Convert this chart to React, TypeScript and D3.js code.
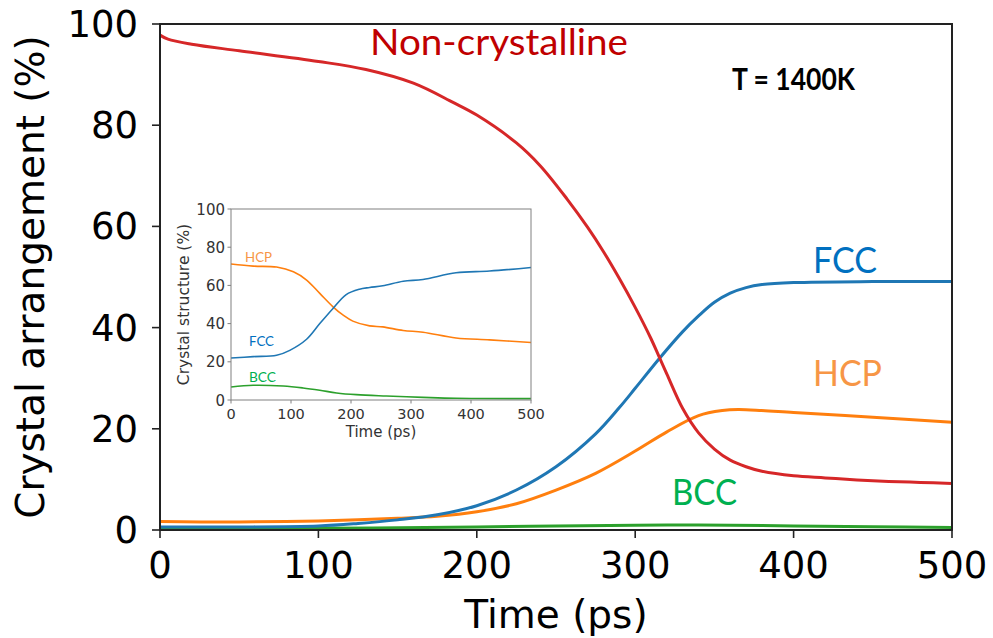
import React from "react";
import * as d3 from "d3";

// ---------- Main chart data ----------
const redT = [0, 5, 20, 50, 100, 130, 160, 185, 200, 225, 240, 257, 270, 280, 290, 300, 310, 315, 320, 330, 340, 350, 360, 370, 380, 400, 420, 440, 460, 480, 500];
const redV = [97.8, 97.0, 96.0, 94.7, 92.6, 91.0, 88.3, 84.5, 82.0, 76.5, 72.0, 65.4, 59.8, 55.0, 49.7, 44.0, 37.8, 34.3, 30.8, 24.0, 19.2, 16.0, 13.8, 12.5, 11.6, 10.7, 10.3, 9.9, 9.6, 9.4, 9.2];

const blueT = [0, 50, 100, 125, 150, 175, 200, 225, 250, 275, 290, 300, 315, 330, 340, 350, 360, 370, 380, 400, 450, 500];
const blueV = [0.6, 0.6, 0.8, 1.3, 2.0, 3.0, 4.8, 7.9, 12.5, 19.0, 24.2, 28.0, 33.8, 39.2, 42.3, 45.0, 46.8, 47.9, 48.5, 48.9, 49.1, 49.1];

const orangeT = [0, 50, 100, 150, 175, 200, 225, 250, 275, 300, 320, 340, 355, 365, 380, 400, 450, 500];
const orangeV = [1.7, 1.6, 1.8, 2.3, 2.7, 3.6, 5.2, 7.9, 11.2, 15.6, 19.4, 22.6, 23.6, 23.8, 23.6, 23.2, 22.3, 21.3];

const greenT = [0, 100, 200, 250, 300, 330, 360, 400, 450, 500];
const greenV = [0.3, 0.35, 0.6, 0.8, 0.95, 1.0, 0.95, 0.8, 0.65, 0.5];

const mainXTicks = [0, 100, 200, 300, 400, 500];
const mainYTicks = [0, 20, 40, 60, 80, 100];

// ---------- Inset data ----------
const inHcpT = [0, 37, 76, 104, 126, 148, 170, 187, 203, 231, 253, 287, 320, 375, 431, 500];
const inHcpV = [71.2, 70.1, 69.6, 67.1, 62.8, 55.8, 48.8, 44.4, 41.3, 38.8, 38.3, 36.4, 35.5, 32.5, 31.5, 30.1];

const inFccT = [0, 37, 76, 98, 126, 148, 170, 192, 214, 231, 253, 287, 320, 375, 431, 500];
const inFccV = [22.0, 22.7, 23.4, 26.0, 31.8, 40.0, 47.9, 55.2, 58.0, 58.9, 59.8, 62.2, 63.1, 66.6, 67.5, 69.4];

const inBccT = [0, 37, 87, 120, 148, 176, 209, 259, 320, 375, 500];
const inBccV = [6.8, 7.7, 7.3, 6.3, 5.1, 3.7, 2.8, 2.1, 1.4, 0.9, 0.7];

const insetXTicks = [0, 100, 200, 300, 400, 500];
const insetYTicks = [0, 20, 40, 60, 80, 100];

const zip = (t: number[], v: number[]) => t.map((x, i) => [x, v[i]] as [number, number]);

export default function App() {
  // main scales
  const x = d3.scaleLinear().domain([0, 500]).range([160, 952]);
  const y = d3.scaleLinear().domain([0, 100]).range([530, 24]);
  const line = d3
    .line<[number, number]>()
    .x((d) => x(d[0]))
    .y((d) => y(d[1]))
    .curve(d3.curveCatmullRom.alpha(0.5));

  // inset scales
  const ix = d3.scaleLinear().domain([0, 500]).range([231, 531]);
  const iy = d3.scaleLinear().domain([0, 100]).range([400, 209]);
  const iline = d3
    .line<[number, number]>()
    .x((d) => ix(d[0]))
    .y((d) => iy(d[1]))
    .curve(d3.curveCatmullRom.alpha(0.5));

  const tickFont = "DejaVu Sans, sans-serif";
  const labelFont = "Lato, 'Open Sans', sans-serif";

  return (
    <svg
      width={993}
      height={638}
      style={{ position: "absolute", left: 0, top: 0, background: "#fff" }}
      xmlns="http://www.w3.org/2000/svg"
    >
      <rect x={0} y={0} width={993} height={638} fill="#fff" />

      {/* main lines */}
      <path d={line(zip(greenT, greenV)) || ""} fill="none" stroke="#2ca02c" strokeWidth={3} />
      <path d={line(zip(orangeT, orangeV)) || ""} fill="none" stroke="#ff7f0e" strokeWidth={3} />
      <path d={line(zip(blueT, blueV)) || ""} fill="none" stroke="#1f77b4" strokeWidth={3} />
      <path d={line(zip(redT, redV)) || ""} fill="none" stroke="#d62728" strokeWidth={3} />

      {/* main frame */}
      <rect x={160} y={24} width={792} height={506} fill="none" stroke="#222" strokeWidth={2} />

      {/* main x ticks */}
      {mainXTicks.map((t) => (
        <g key={"mx" + t}>
          <line x1={x(t)} x2={x(t)} y1={530} y2={538} stroke="#222" strokeWidth={1.6} />
          <text x={x(t)} y={578} textAnchor="middle" fontFamily={tickFont} fontSize={37} fill="#000">
            {t}
          </text>
        </g>
      ))}
      {/* main y ticks */}
      {mainYTicks.map((v) => (
        <g key={"my" + v}>
          <line x1={152} x2={160} y1={y(v)} y2={y(v)} stroke="#222" strokeWidth={1.6} />
          <text x={138} y={y(v) + 13} textAnchor="end" fontFamily={tickFont} fontSize={37} fill="#000">
            {v}
          </text>
        </g>
      ))}
      <text x={556} y={628} textAnchor="middle" fontFamily={tickFont} fontSize={39} fill="#000">
        Time (ps)
      </text>
      <text
        transform={`translate(44, 277) rotate(-90)`}
        textAnchor="middle"
        fontFamily={tickFont}
        fontSize={39}
        fill="#000"
      >
        Crystal arrangement (%)
      </text>

      {/* main labels */}
      <text x={370} y={55} fontFamily={labelFont} fontSize={37} fill="#c00000" textLength={258} lengthAdjust="spacingAndGlyphs">
        Non-crystalline
      </text>
      <text x={732} y={90} fontFamily={labelFont} fontSize={30} fontWeight="bold" fill="#000" textLength={123} lengthAdjust="spacingAndGlyphs">
        T = 1400K
      </text>
      <text x={813} y={273} fontFamily={labelFont} fontSize={36} fill="#0070c0" textLength={64} lengthAdjust="spacingAndGlyphs">
        FCC
      </text>
      <text x={813} y={386} fontFamily={labelFont} fontSize={36} fill="#f79646" textLength={69} lengthAdjust="spacingAndGlyphs">
        HCP
      </text>
      <text x={672} y={505} fontFamily={labelFont} fontSize={36} fill="#00b050" textLength={65} lengthAdjust="spacingAndGlyphs">
        BCC
      </text>

      {/* inset */}
      <rect x={231} y={209} width={300} height={191} fill="#fff" />
      <path d={iline(zip(inBccT, inBccV)) || ""} fill="none" stroke="#2ca02c" strokeWidth={1.6} />
      <path d={iline(zip(inHcpT, inHcpV)) || ""} fill="none" stroke="#ff7f0e" strokeWidth={1.6} />
      <path d={iline(zip(inFccT, inFccV)) || ""} fill="none" stroke="#1f77b4" strokeWidth={1.6} />
      <rect x={231} y={209} width={300} height={191} fill="none" stroke="#808080" strokeWidth={1} />
      {insetXTicks.map((t) => (
        <g key={"ix" + t}>
          <line x1={ix(t)} x2={ix(t)} y1={400} y2={403.5} stroke="#808080" strokeWidth={1} />
          <text x={ix(t)} y={419} textAnchor="middle" fontFamily={tickFont} fontSize={14.5} fill="#333">
            {t}
          </text>
        </g>
      ))}
      {insetYTicks.map((v) => (
        <g key={"iy" + v}>
          <line x1={227.5} x2={231} y1={iy(v)} y2={iy(v)} stroke="#808080" strokeWidth={1} />
          <text x={225} y={iy(v) + 5.5} textAnchor="end" fontFamily={tickFont} fontSize={15} fill="#333">
            {v}
          </text>
        </g>
      ))}
      <text x={381} y={437} textAnchor="middle" fontFamily={tickFont} fontSize={15} fill="#333">
        Time (ps)
      </text>
      <text
        transform={`translate(189, 304.5) rotate(-90)`}
        textAnchor="middle"
        fontFamily={tickFont}
        fontSize={15.5}
        fill="#333"
      >
        Crystal structure (%)
      </text>
      <text x={245} y={262} fontFamily={labelFont} fontSize={13} fill="#f79646" textLength={27} lengthAdjust="spacingAndGlyphs">
        HCP
      </text>
      <text x={249} y={346} fontFamily={labelFont} fontSize={13} fill="#0070c0" textLength={25} lengthAdjust="spacingAndGlyphs">
        FCC
      </text>
      <text x={249} y={382} fontFamily={labelFont} fontSize={13} fill="#00b050" textLength={27} lengthAdjust="spacingAndGlyphs">
        BCC
      </text>
    </svg>
  );
}
